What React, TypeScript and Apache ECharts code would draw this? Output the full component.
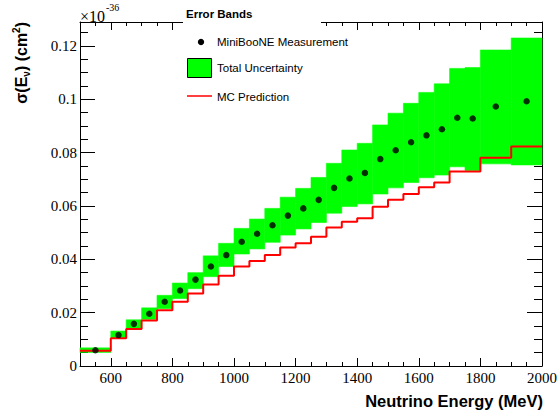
import React, { useEffect, useRef } from "react";
import * as echarts from "echarts";

// Bin edges (MeV)
const binEdges = [500, 600, 650, 700, 750, 800, 850, 900, 950, 1000, 1050, 1100, 1150, 1200, 1250, 1300, 1350, 1400, 1450, 1500, 1550, 1600, 1650, 1700, 1750, 1800, 1900, 2000];

// MiniBooNE measurement (x1e-36 cm^2 scale shown on axis)
const measured = [0.0059, 0.0116, 0.0158, 0.0196, 0.0241, 0.0283, 0.0324, 0.0373, 0.0416, 0.0466, 0.0496, 0.0528, 0.0564, 0.0591, 0.0623, 0.0668, 0.0703, 0.0724, 0.0776, 0.0809, 0.0839, 0.0865, 0.0888, 0.0931, 0.0928, 0.0973, 0.0993];

// Total uncertainty band
const bandLow = [0.0051, 0.0106, 0.0140, 0.0175, 0.0215, 0.0253, 0.0290, 0.0335, 0.0373, 0.0420, 0.0439, 0.0464, 0.0491, 0.0514, 0.0538, 0.0573, 0.0598, 0.0608, 0.0645, 0.0668, 0.0688, 0.0706, 0.0716, 0.0747, 0.0733, 0.0758, 0.0754];
const bandHigh = [0.0068, 0.0131, 0.0173, 0.0218, 0.0265, 0.0311, 0.0350, 0.0413, 0.0460, 0.0516, 0.0551, 0.0591, 0.0633, 0.0666, 0.0707, 0.0760, 0.0810, 0.0835, 0.0904, 0.0948, 0.0985, 0.1026, 0.1058, 0.1116, 0.1119, 0.1185, 0.1230];

// MC prediction
const mcPrediction = [0.0057, 0.0104, 0.0139, 0.0171, 0.0209, 0.0241, 0.0272, 0.0306, 0.0338, 0.0373, 0.0394, 0.0416, 0.0444, 0.0460, 0.0485, 0.0519, 0.0541, 0.0554, 0.0597, 0.0623, 0.0645, 0.0670, 0.0688, 0.0729, 0.0729, 0.0781, 0.0823];

// Axis ticks
const xMajorTicks = [600, 800, 1000, 1200, 1400, 1600, 1800, 2000];
const xMinorTicks = [550, 650, 700, 750, 850, 900, 950, 1050, 1100, 1150, 1250, 1300, 1350, 1450, 1500, 1550, 1650, 1700, 1750, 1850, 1900, 1950];
const yMajorTicks = [0, 0.02, 0.04, 0.06, 0.08, 0.1, 0.12];
const yMinorTicks = [0.005, 0.01, 0.015, 0.025, 0.03, 0.035, 0.045, 0.05, 0.055, 0.065, 0.07, 0.075, 0.085, 0.09, 0.095, 0.105, 0.11, 0.115, 0.125];

const X_MIN = 500;
const X_MAX = 2000;
const Y_MIN = 0;
const Y_MAX = 0.129;

const SANS = "Liberation Sans";
const SERIF = "Liberation Serif";

function fmtY(v: number) {
  if (v === 0) return "0";
  return String(parseFloat(v.toFixed(3)));
}

export default function App() {
  const ref = useRef<HTMLDivElement>(null);

  useEffect(() => {
    if (!ref.current) return;
    const chart = echarts.init(ref.current, null, { renderer: "svg" });

    const bandData = measured.map((_, i) => [binEdges[i], binEdges[i + 1], bandLow[i], bandHigh[i]]);
    const pointData = measured.map((v, i) => [(binEdges[i] + binEdges[i + 1]) / 2, v]);
    const mcData = mcPrediction.map((v, i) => [binEdges[i], v]);
    mcData.push([binEdges[binEdges.length - 1], mcPrediction[mcPrediction.length - 1]]);

    const black = "#000000";
    const baseX = (position: string, major: boolean, showLine: boolean) => ({
      type: "value" as const,
      position,
      min: X_MIN,
      max: X_MAX,
      axisLine: { show: showLine, onZero: false, lineStyle: { color: black, width: 1 } },
      axisTick: {
        show: true,
        inside: true,
        length: major ? 8 : 4,
        customValues: major ? xMajorTicks : xMinorTicks,
        lineStyle: { color: black, width: 1 },
      },
      axisLabel: { show: false },
      splitLine: { show: false },
    });
    const baseY = (position: string, major: boolean, showLine: boolean) => ({
      type: "value" as const,
      position,
      min: Y_MIN,
      max: Y_MAX,
      axisLine: { show: showLine, onZero: false, lineStyle: { color: black, width: 1 } },
      axisTick: {
        show: true,
        inside: true,
        length: major ? 15 : 8,
        customValues: major ? yMajorTicks : yMinorTicks,
        lineStyle: { color: black, width: 1 },
      },
      axisLabel: { show: false },
      splitLine: { show: false },
    });

    const xBottom: any = baseX("bottom", true, true);
    xBottom.axisLabel = {
      show: true,
      customValues: xMajorTicks,
      fontFamily: SERIF,
      fontSize: 15,
      color: black,
      margin: 4,
      formatter: (v: number) => String(v),
    };
    const yLeft: any = baseY("left", true, true);
    yLeft.axisLabel = {
      show: true,
      customValues: yMajorTicks,
      fontFamily: SERIF,
      fontSize: 15,
      color: black,
      margin: 3,
      formatter: (v: number) => fmtY(v),
    };

    chart.setOption({
      animation: false,
      backgroundColor: "#ffffff",
      textStyle: { fontFamily: SANS },
      grid: { left: 80, right: 17, top: 22, bottom: 54, containLabel: false },
      xAxis: [xBottom, baseX("bottom", false, false), baseX("top", true, true), baseX("top", false, false)],
      yAxis: [yLeft, baseY("left", false, false), baseY("right", true, true), baseY("right", false, false)],
      series: [
        {
          name: "Total Uncertainty",
          type: "custom",
          xAxisIndex: 0,
          yAxisIndex: 0,
          silent: true,
          z: 1,
          data: bandData,
          encode: { x: [0, 1], y: [2, 3] },
          renderItem: (params: any, api: any) => {
            const p0 = api.coord([api.value(0), api.value(3)]);
            const p1 = api.coord([api.value(1), api.value(2)]);
            return {
              type: "rect",
              shape: { x: p0[0], y: p0[1], width: p1[0] - p0[0], height: p1[1] - p0[1] },
              style: { fill: "#00ff00", stroke: "#00ff00", lineWidth: 0.6 },
            };
          },
        },
        {
          name: "MC Prediction",
          type: "line",
          xAxisIndex: 0,
          yAxisIndex: 0,
          step: "end",
          data: mcData,
          symbol: "none",
          z: 3,
          lineStyle: { color: "#ff0000", width: 2 },
          silent: true,
        },
        {
          name: "MiniBooNE Measurement",
          type: "scatter",
          xAxisIndex: 0,
          yAxisIndex: 0,
          data: pointData,
          symbol: "circle",
          symbolSize: 6.5,
          z: 4,
          itemStyle: { color: black },
          silent: true,
        },
      ],
      graphic: [
        // legend box (white, covers frame)
        { type: "rect", z: 100, shape: { x: 183, y: 0, width: 138, height: 106 }, style: { fill: "#ffffff" } },
        { type: "text", z: 101, x: 186, y: 14, style: { text: "Error Bands", font: "bold 11.5px Liberation Sans", fill: black, verticalAlign: "middle" } },
        { type: "circle", z: 101, shape: { cx: 201, cy: 42, r: 3.2 }, style: { fill: black } },
        { type: "text", z: 101, x: 217, y: 42, style: { text: "MiniBooNE Measurement", font: "11.5px Liberation Sans", fill: black, verticalAlign: "middle" } },
        { type: "rect", z: 101, shape: { x: 187.5, y: 58.5, width: 24, height: 19 }, style: { fill: "#00ff00", stroke: black, lineWidth: 1 } },
        { type: "text", z: 101, x: 217, y: 68, style: { text: "Total Uncertainty", font: "11.5px Liberation Sans", fill: black, verticalAlign: "middle" } },
        { type: "line", z: 101, shape: { x1: 187, y1: 96, x2: 212, y2: 96 }, style: { stroke: "#ff0000", lineWidth: 1.5 } },
        { type: "text", z: 101, x: 217, y: 96.5, style: { text: "MC Prediction", font: "11.5px Liberation Sans", fill: black, verticalAlign: "middle" } },
        // exponent
        { type: "text", z: 101, x: 80, y: 16, style: { text: "×10", font: "16px Liberation Serif", fill: black, verticalAlign: "middle" } },
        { type: "text", z: 101, x: 106, y: 7, style: { text: "-36", font: "10px Liberation Serif", fill: black, verticalAlign: "middle" } },
        // x title
        { type: "text", z: 101, x: 543, y: 401, style: { text: "Neutrino Energy (MeV)", font: "bold 16.5px Liberation Sans", fill: black, align: "right", verticalAlign: "middle" } },
        // y title
        {
          type: "text",
          z: 101,
          x: 21,
          y: 22,
          rotation: Math.PI / 2,
          style: {
            text: "{b|σ(E}{s|ν}{b|) (cm}{p|2}{b|)}",
            align: "right",
            verticalAlign: "middle",
            fill: black,
            rich: {
              b: { fontFamily: SANS, fontWeight: "bold", fontSize: 16, fill: black, lineHeight: 20 },
              s: { fontFamily: SANS, fontWeight: "bold", fontSize: 10, fill: black, lineHeight: 20, verticalAlign: "bottom", padding: [8, 0, 0, 0] },
              p: { fontFamily: SANS, fontWeight: "bold", fontSize: 10, fill: black, lineHeight: 20, verticalAlign: "top", padding: [0, 0, 8, 0] },
            },
          },
        },
      ],
    });

    return () => chart.dispose();
  }, []);

  return (
    <div
      ref={ref}
      style={{ position: "fixed", left: 0, top: 0, width: 560, height: 420, background: "#ffffff" }}
    />
  );
}
